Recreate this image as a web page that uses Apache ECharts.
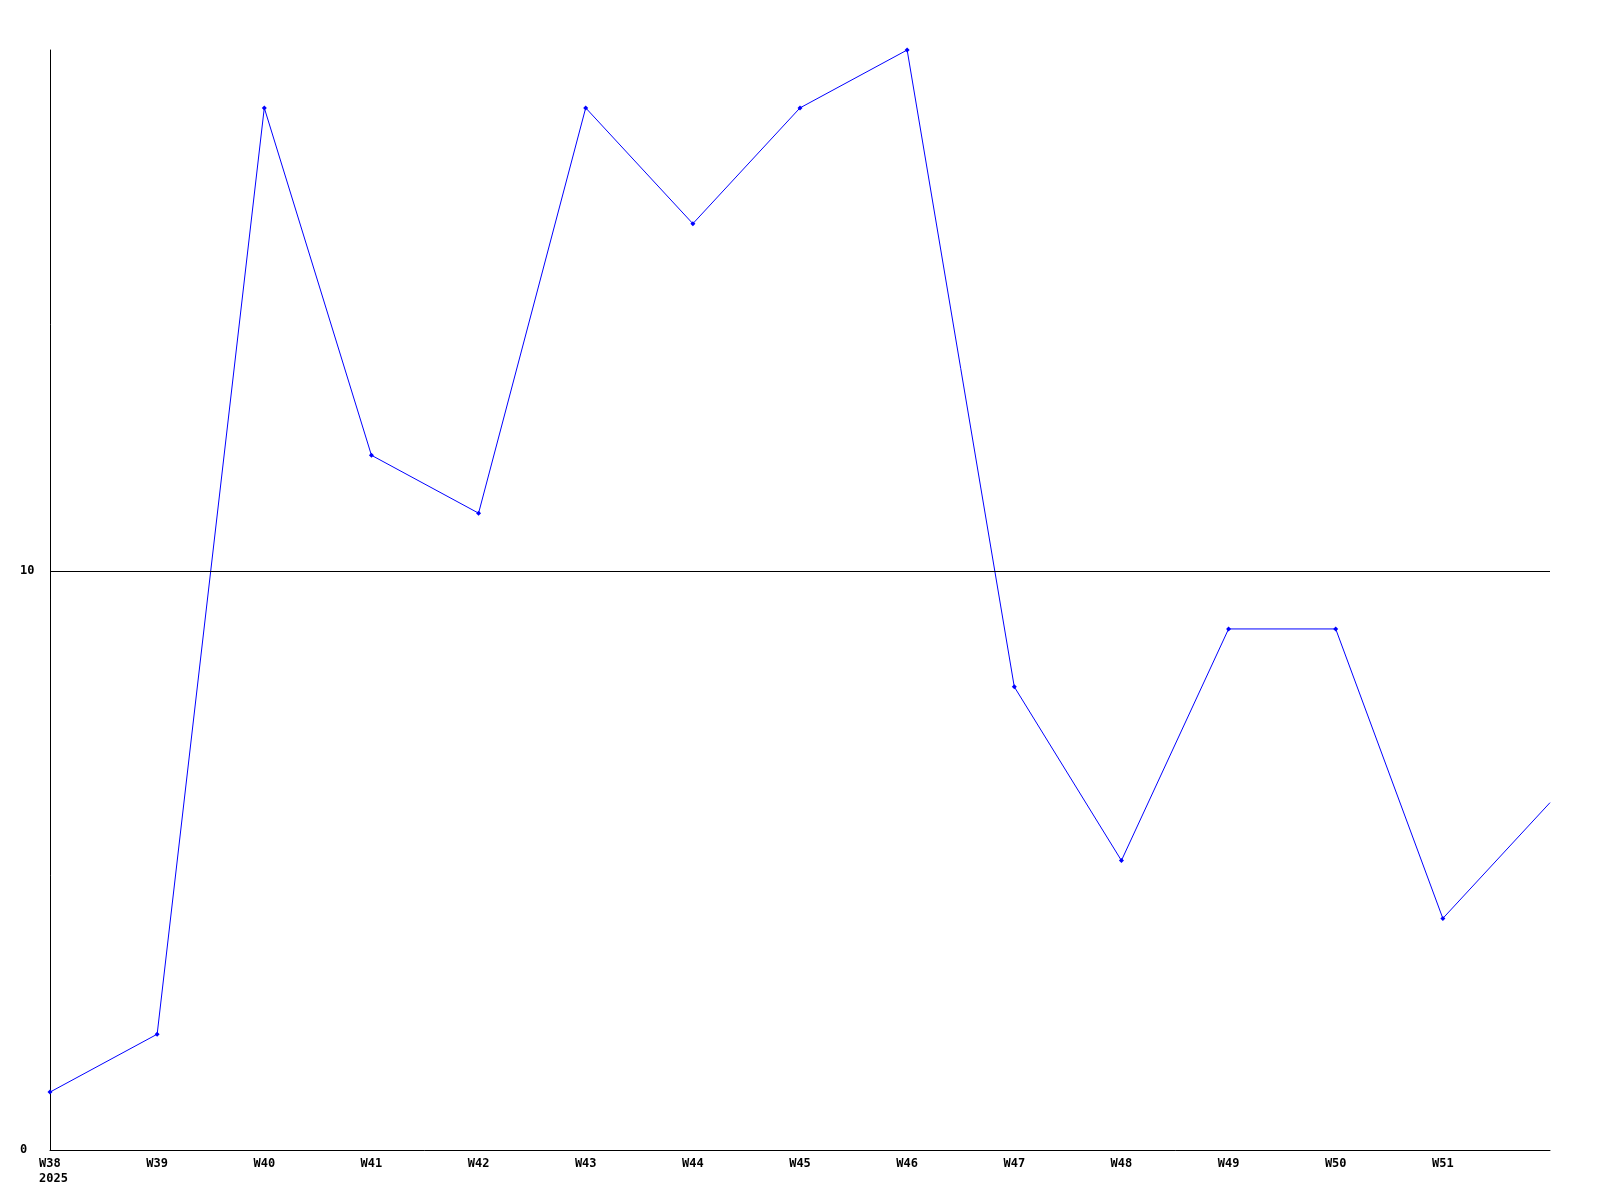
<!DOCTYPE html>
<html>
<head>
<meta charset="utf-8">
<script src="https://cdn.jsdelivr.net/npm/echarts@6/dist/echarts.min.js"></script>
<style>html,body{margin:0;padding:0;background:#fff}#c{width:1600px;height:1200px}</style>
</head>
<body>
<div id="c"></div>
<script>
const categories = ['W38','W39','W40','W41','W42','W43','W44','W45','W46','W47','W48','W49','W50','W51','W52'];
const values = [1, 2, 18, 12, 11, 18, 16, 18, 19, 8, 5, 9, 9, 4, 6];
const yTicks = [0, 10];
const firstYear = '2025';

const chart = echarts.init(document.getElementById('c'));
const font = '"DejaVu Sans Mono", "Liberation Mono", monospace';
const lblStyle = { fontFamily: font, fontWeight: 'bold', fontSize: 12, color: '#000', lineHeight: 15 };
chart.setOption({
  animation: false,
  backgroundColor: '#ffffff',
  grid: { left: 50, right: 50, top: 50, bottom: 50, containLabel: false },
  xAxis: {
    type: 'category',
    data: categories,
    boundaryGap: false,
    axisLine: { show: true, lineStyle: { color: '#000', width: 1 } },
    axisTick: { show: false },
    splitLine: { show: false },
    axisLabel: {
      color: '#000',
      fontFamily: font,
      fontWeight: 'bold',
      fontSize: 12,
      lineHeight: 15,
      margin: 6,
      interval: function (i) { return i < categories.length - 1; },
      formatter: function (v, i) { return i === 0 ? '{f|' + v + '}\n{f|' + firstYear + '}' : v; },
      rich: {
        f: Object.assign({ width: 22, align: 'left' }, lblStyle)
      }
    }
  },
  yAxis: {
    type: 'value',
    min: 0,
    max: 19,
    interval: 10,
    axisLine: { show: true, lineStyle: { color: '#000', width: 1 } },
    axisTick: { show: false },
    splitLine: { show: false },
    axisLabel: {
      color: '#000',
      fontFamily: font,
      fontWeight: 'bold',
      fontSize: 12,
      align: 'left',
      margin: 30,
      showMaxLabel: false,
      formatter: function (v) { return yTicks.indexOf(v) >= 0 ? String(v) : ''; }
    }
  },
  series: [{
    type: 'line',
    data: values.map(function (v, i) {
      return i === values.length - 1 ? { value: v, symbol: 'none' } : v;
    }),
    symbol: 'diamond',
    symbolSize: 5,
    showAllSymbol: true,
    lineStyle: { color: '#0000ff', width: 1 },
    itemStyle: { color: '#0000ff' },
    markLine: {
      silent: true,
      symbol: 'none',
      label: { show: false },
      lineStyle: { color: '#000', width: 1, type: 'solid' },
      data: [{ yAxis: 10 }]
    }
  }]
});
</script>
</body>
</html>
